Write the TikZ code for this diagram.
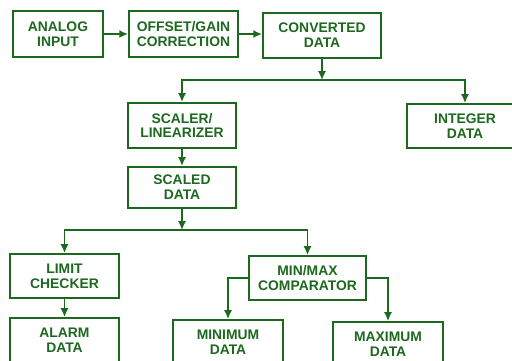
\documentclass[tikz,border=0pt]{standalone}
\usepackage{fontspec}
\setmainfont{Liberation Sans}
\usetikzlibrary{arrows.meta}
\definecolor{dkgreen}{RGB}{28,104,30}
\tikzstyle{block} = [draw=dkgreen, rectangle, line width=1.1pt, align=center, text=dkgreen,
    inner sep=0.3ex, minimum height=0.88cm, font=\bfseries\fontsize{7.9}{8.4}\selectfont]
\tikzstyle{arrow} = [draw=dkgreen, line width=1.1pt, -{Latex[length=5pt,width=4.6pt]}]

\begin{document}
\begin{tikzpicture}[x=0.02cm, y=-0.02cm]
                        \useasboundingbox (0,0) rectangle (512,361);
                        % top row
                        \node[block, minimum width=1.8cm, minimum height=0.92cm]
                            (input) at (58,34) {ANALOG \\ INPUT};
                        \node[block, minimum width=2.18cm, minimum height=0.92cm]
                            (offset) at (183.5,34) {OFFSET/GAIN \\ CORRECTION};
                        \node[block, minimum width=2.36cm, minimum height=0.9cm]
                            (conv) at (322,35.5) {CONVERTED \\ DATA};
                        % middle
                        \node[block, minimum width=2.16cm, minimum height=0.9cm]
                            (scaler) at (182,125.5) {SCALER/ \\ LINEARIZER};
                        \node[block, minimum width=2.32cm]
                            (integer) at (465,126) {INTEGER \\ DATA};
                        \node[block, minimum width=2.16cm, minimum height=0.82cm]
                            (scaled) at (182,187.5) {SCALED \\ DATA};
                        % bottom
                        \node[block, minimum width=2.18cm]
                            (limit) at (64.5,276) {LIMIT \\ CHECKER};
                        \node[block, minimum width=2.18cm]
                            (alarm) at (64.5,340) {ALARM \\ DATA};
                        \node[block, minimum width=2.34cm]
                            (minmax) at (307.5,278) {MIN/MAX \\ COMPARATOR};
                        \node[block, minimum width=2.2cm]
                            (minimum) at (228,342) {MINIMUM \\ DATA};
                        \node[block, minimum width=2.2cm]
                            (maximum) at (388,344) {MAXIMUM \\ DATA};

                        \coordinate (split1) at (322,80);
                        \coordinate (split2) at (182,230);

                        \draw[arrow] (input) -- (offset);
                        \draw[arrow] (offset.east) -- (offset.east -| conv.west);
                        \draw[arrow] (conv) -- (split1);
                        \draw[arrow] (split1) -| (scaler);
                        \draw[arrow] (split1) -| (integer);
                        \draw[arrow] (scaler) -- (scaled);
                        \draw[arrow] (scaled) -- (split2);
                        \draw[arrow] (split2) -| (limit);
                        \draw[arrow] (split2) -| (minmax);
                        \draw[arrow] (limit) -- (alarm);
                        \draw[arrow] (minmax.west) -| (minimum);
                        \draw[arrow] (minmax.east) -| (maximum);
                    \end{tikzpicture}
\end{document}
